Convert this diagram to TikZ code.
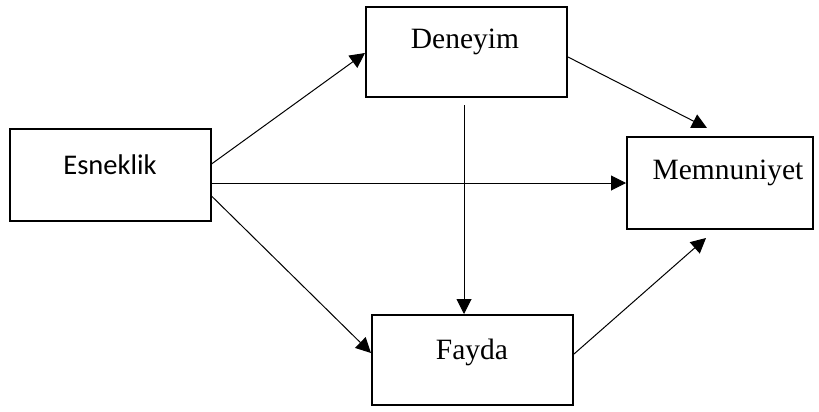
\documentclass[tikz,border=0pt]{standalone}
\usepackage{fontspec}
\setmainfont{Liberation Serif}
\newfontfamily\boxsans{Carlito}
\usetikzlibrary{arrows.meta}
\begin{document}
\begin{tikzpicture}[x=1pt,y=-1pt,
  box/.style={draw,line width=2pt,rectangle,inner sep=0pt},
  lbl/.style={inner sep=0pt,font=\fontsize{29.5}{35}\selectfont},
  lblsans/.style={inner sep=0pt,font=\boxsans\fontsize{28.5}{34}\selectfont},
  link/.style={line width=1pt,-{Triangle[length=15pt,width=15pt]}}]
\useasboundingbox (0,0) rectangle (819,412);
% boxes
\node[box,minimum width=201pt,minimum height=92pt] (esn) at (110,175) {};
\node[box,minimum width=201pt,minimum height=90pt] (den) at (466.5,52) {};
\node[box,minimum width=201pt,minimum height=90pt] (fay) at (472.5,360) {};
\node[box,minimum width=186pt,minimum height=92pt] (mem) at (720,183) {};
% labels
\node[lblsans] (esnT) at (110,165) {Esneklik};
\node[lbl] (denT) at (465,42) {Deneyim};
\node[lbl] (fayT) at (472,352) {Fayda};
\node[lbl] (memT) at (728,173) {Memnuniyet};
% free ends of the two arrows into the Memnuniyet box
\coordinate (memTop) at (707,128);
\coordinate (memBot) at (706,238);
% connectors (shifts are in page points: positive yshift is upwards)
\draw[link] ([yshift=11pt]esn.east) -- ([yshift=-1pt]den.west);
\draw[link] ([yshift=-8pt]esn.east) -- (mem.west);
\draw[link] ([yshift=-21pt]esn.east) -- ([yshift=7pt]fay.west);
\draw[link] ([xshift=-2.5pt,yshift=-7pt]den.south) -- ([xshift=-8.5pt]fay.north);
\draw[link] ([yshift=-5pt]den.east) -- (memTop);
\draw[link] ([yshift=6pt]fay.east) -- (memBot);
\end{tikzpicture}
\end{document}
